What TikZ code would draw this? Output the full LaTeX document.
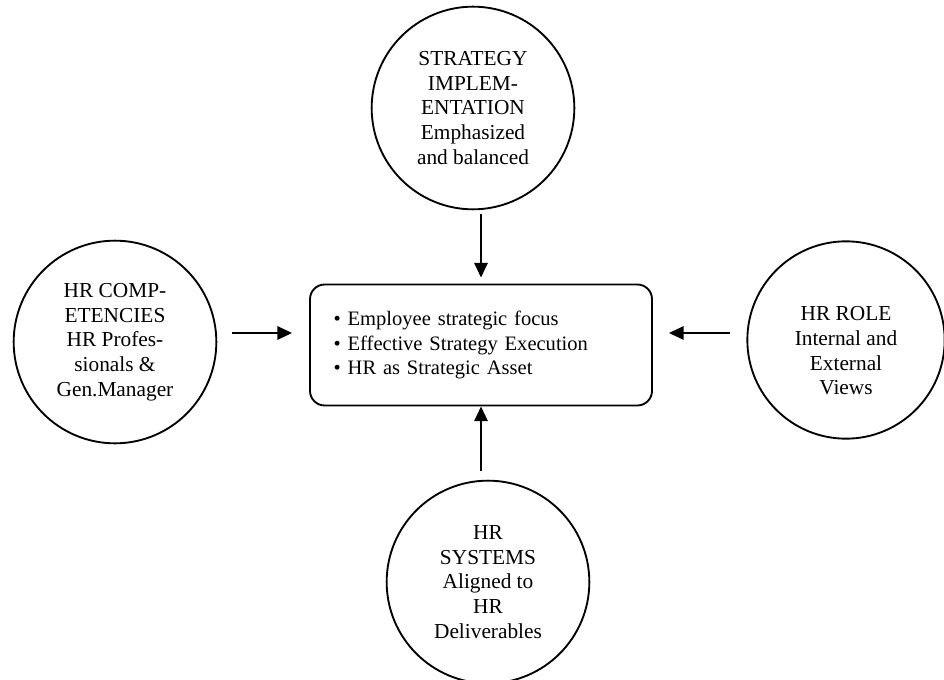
\documentclass[tikz,border=0pt]{standalone}
\usepackage{fontspec}
\setmainfont{Liberation Serif}
\usetikzlibrary{arrows.meta}
\begin{document}
\begin{tikzpicture}[x=0.75pt,y=-0.75pt,
  every node/.style={font=\fontsize{16}{18.5}\selectfont},
  bubble/.style={draw,circle,line width=1.4pt,inner sep=0pt,minimum size=152pt,align=center},
  hub/.style={draw,rounded corners=11pt,line width=1.4pt,minimum width=256.5pt,minimum height=90.75pt,
              text width=221pt,inner xsep=17.75pt,align=left,font=\fontsize{15.4}{18.5}\selectfont},
  arr/.style={line width=1.4pt,-{Triangle[length=11pt,width=10pt]}}]
\useasboundingbox (0,0) rectangle (944,680);
\node[hub] (box) at (481,345) {\textbullet\ Employee strategic focus\\
  \textbullet\ Effective Strategy Execution\\
  \textbullet\ HR as Strategic Asset};
\node[bubble] (top) at (473,108) {STRATEGY\\IMPLEM-\\ENTATION\\Emphasized\\and balanced};
\node[bubble] (lft) at (115,342) {HR COMP-\\ETENCIES\\HR Profes-\\sionals \&\\Gen.Manager};
\node[bubble,minimum size=148pt] (rgt) at (846,340) {};
\node[align=center] (rgtt) at (846,351) {HR ROLE\\Internal and\\External\\Views};
\node[bubble] (bot) at (488,582) {HR\\SYSTEMS\\Aligned to\\HR\\Deliverables};
\coordinate (la) at (232,333);
\coordinate (ra) at (730,333);
\draw[arr,shorten <=3pt,shorten >=4.5pt] (top.south -| box.north) -- (box.north);
\draw[arr,shorten >=12.75pt] (la) -- (box.west |- la);
\draw[arr,shorten >=12pt] (ra) -- (box.east |- ra);
\draw[arr,shorten <=6.75pt] (bot.north -| box.south) -- (box.south);
\end{tikzpicture}
\end{document}
